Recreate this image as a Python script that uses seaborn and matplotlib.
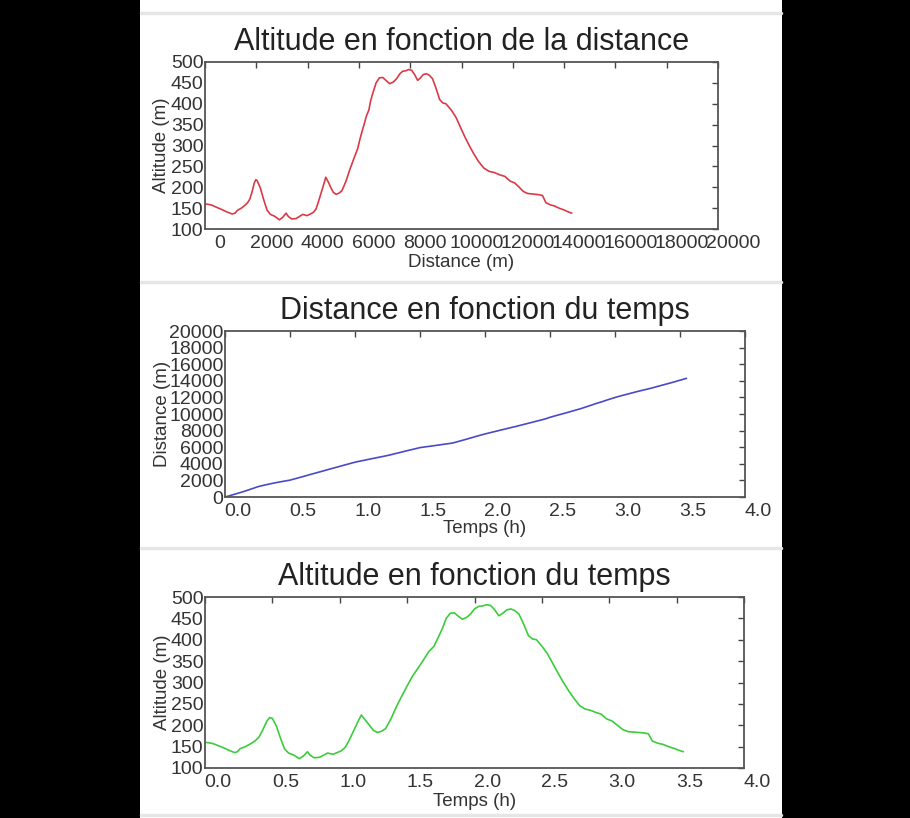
import numpy as np
import pandas as pd
import matplotlib
matplotlib.use("Agg")
import matplotlib.pyplot as plt
import matplotlib.transforms as mtransforms
from matplotlib.lines import Line2D
from matplotlib.patches import Rectangle
import seaborn as sns

# ---- data ----
temps_h = [0.00, 0.03, 0.06, 0.10, 0.14, 0.18, 0.22, 0.24, 0.26, 0.30, 0.34, 0.37,
           0.40, 0.43, 0.46, 0.48, 0.50, 0.53, 0.56, 0.59, 0.62, 0.66, 0.70, 0.73,
           0.76, 0.78, 0.81, 0.85, 0.88, 0.91, 0.95, 0.98, 1.01, 1.04, 1.07, 1.10,
           1.13, 1.16, 1.19, 1.22, 1.25, 1.28, 1.31, 1.34, 1.38, 1.42, 1.46, 1.50,
           1.54, 1.58, 1.62, 1.66, 1.70, 1.73, 1.76, 1.79, 1.82, 1.85, 1.88, 1.91,
           1.94, 1.97, 2.00, 2.03, 2.06, 2.09, 2.12, 2.15, 2.18, 2.21, 2.24, 2.27,
           2.30, 2.33, 2.36, 2.40, 2.43, 2.46, 2.50, 2.54, 2.58, 2.62, 2.66, 2.70,
           2.74, 2.78, 2.82, 2.86, 2.90, 2.94, 2.98, 3.02, 3.06, 3.10, 3.14, 3.18,
           3.22, 3.26, 3.29, 3.32, 3.36, 3.40, 3.44, 3.48, 3.52, 3.55]

altitude_m = [160, 159, 157, 152, 147, 141, 136, 138, 145, 150, 157, 163,
              172, 190, 210, 218, 216, 198, 170, 145, 135, 130, 122, 128,
              138, 130, 124, 125, 130, 135, 132, 136, 140, 148, 165, 185,
              205, 224, 212, 200, 188, 183, 186, 192, 215, 243, 268, 292,
              315, 333, 352, 372, 385, 405, 425, 450, 462, 463, 455, 448,
              452, 460, 472, 478, 479, 482, 480, 470, 456, 462, 470, 472,
              468, 460, 440, 410, 402, 400, 385, 368, 345, 322, 300, 280,
              262, 246, 238, 235, 230, 226, 215, 210, 200, 190, 185, 184,
              183, 182, 180, 163, 158, 155, 150, 146, 141, 138]

distance_m = [0, 130, 270, 450, 640, 850, 1060, 1170, 1270, 1420, 1560, 1660,
              1750, 1840, 1920, 1980, 2030, 2160, 2290, 2420, 2550, 2730, 2900, 3030,
              3160, 3250, 3380, 3550, 3680, 3810, 3980, 4110, 4230, 4330, 4420, 4520,
              4620, 4710, 4810, 4900, 5000, 5110, 5230, 5340, 5500, 5650, 5800, 5950,
              6040, 6120, 6210, 6300, 6390, 6450, 6540, 6670, 6800, 6930, 7070, 7200,
              7340, 7470, 7600, 7710, 7830, 7940, 8060, 8170, 8290, 8400, 8510, 8630,
              8750, 8870, 8990, 9150, 9270, 9390, 9600, 9780, 9950, 10120, 10300, 10480,
              10660, 10870, 11080, 11290, 11480, 11690, 11890, 12080, 12250, 12410, 12580, 12740,
              12890, 13040, 13160, 13290, 13460, 13630, 13800, 13980, 14160, 14300]

titles = ["Altitude en fonction de la distance",
          "Distance en fonction du temps",
          "Altitude en fonction du temps"]
xlabels = ["Distance (m)", "Temps (h)", "Temps (h)"]
ylabels = ["Altitude (m)", "Distance (m)", "Altitude (m)"]
dist_ticks = list(range(0, 20001, 2000))
time_ticks = [0.0, 0.5, 1.0, 1.5, 2.0, 2.5, 3.0, 3.5, 4.0]
alt_ticks = list(range(100, 501, 50))

df = pd.DataFrame({"temps": temps_h, "distance": distance_m, "altitude": altitude_m})

# ---- styling ----
sns.set_style("white")
plt.rcParams["font.family"] = ["Liberation Sans", "DejaVu Sans"]

W, H = 910, 818
fig = plt.figure(figsize=(W / 100, H / 100), dpi=100)
fig.patch.set_facecolor("black")
fig.add_artist(Rectangle((140 / W, 0), (782 - 140) / W, 1, transform=fig.transFigure,
                         facecolor="white", edgecolor="none", zorder=0))
for yy in [13, 282, 548, 815]:
    fig.add_artist(Line2D([141 / W, 781 / W], [1 - yy / H, 1 - yy / H], transform=fig.transFigure,
                          color="#e6e6e6", lw=2.5, zorder=1))

def px_axes(left, right, top, bottom):
    return fig.add_axes([left / W, 1 - bottom / H, (right - left) / W, (bottom - top) / H])

ax1 = px_axes(205, 718, 62, 229)
ax2 = px_axes(225, 745, 331, 497)
ax3 = px_axes(205, 744, 597, 768)

sns.lineplot(data=df, x="distance", y="altitude", ax=ax1, color="#d93a46",
             lw=1.2, estimator=None, sort=False)
sns.lineplot(data=df, x="temps", y="distance", ax=ax2, color="#4a4ac8",
             lw=1.2, estimator=None, sort=False)
sns.lineplot(data=df, x="temps", y="altitude", ax=ax3, color="#3ccc3c",
             lw=1.2, estimator=None, sort=False)

cfg = [
    (ax1, (0, 20000), dist_ticks, [str(v) for v in dist_ticks], (100, 500), alt_ticks, 15, -0.085, -0.2),
    (ax2, (0, 4), time_ticks, ["%.1f" % v for v in time_ticks], (0, 20000), dist_ticks, 13, -0.12, -0.19),
    (ax3, (0, 4), time_ticks, ["%.1f" % v for v in time_ticks], (100, 500), alt_ticks, 13, -0.078, -0.195),
]
for i, (ax, xl, xt, xtl, yl, yt, dx, ylx, xly) in enumerate(cfg):
    ax.set_facecolor("white")
    ax.set_xlim(*xl)
    ax.set_ylim(*yl)
    ax.set_xticks(xt)
    ax.set_xticklabels(xtl)
    ax.set_yticks(yt)
    ax.set_yticklabels([str(v) for v in yt])
    ax.tick_params(direction="in", length=4, width=1, colors="#444444", labelcolor="#333333",
                   labelsize=14, top=True, right=True)
    ax.tick_params(axis="y", pad=1)
    ax.tick_params(axis="x", pad=4)
    for s in ax.spines.values():
        s.set_visible(True)
        s.set_color("#555555")
        s.set_linewidth(1.3)
    off = mtransforms.ScaledTranslation(dx / 100, 0, fig.dpi_scale_trans)
    for lab in ax.get_xticklabels():
        lab.set_transform(lab.get_transform() + off)
    ax.set_title(titles[i], fontsize=22, color="#222222", pad=9)
    ax.set_xlabel(xlabels[i], fontsize=13.5, color="#333333")
    ax.set_ylabel(ylabels[i], fontsize=13.5, color="#333333")
    ax.xaxis.set_label_coords(0.5, xly)
    ax.xaxis.label.set_va("center")
    ax.yaxis.set_label_coords(ylx, 0.5)
    ax.yaxis.label.set_va("center")

fig.savefig("out.png", dpi=100, facecolor=fig.get_facecolor())
